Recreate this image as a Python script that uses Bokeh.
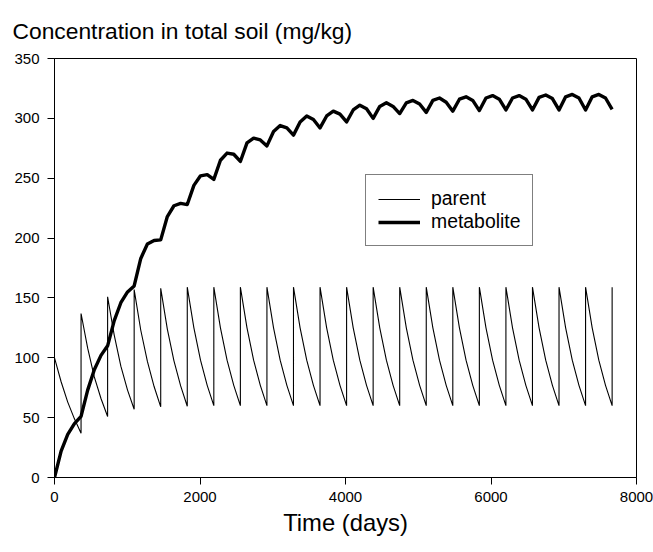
from bokeh.plotting import figure
from bokeh.models import Range1d, FixedTicker, Title, Legend, LegendItem
from bokeh.embed import file_html
from bokeh.resources import INLINE

# ---- data ----
# application days (start of each yearly cycle)
app_days = [0, 365, 730, 1095, 1460, 1825, 2190, 2555, 2920, 3285, 3650,
            4015, 4380, 4745, 5110, 5475, 5840, 6205, 6570, 6935, 7300, 7665]
# sampling offsets within one cycle (days after application)
cycle_offsets = [0, 91, 182, 274, 365]

# parent (mg/kg) per cycle: just after application, quarter, mid, three-quarter, before next application
parent_peak = [100, 137, 151, 157, 158, 159, 159, 159, 159, 159, 159,
               159, 159, 159, 159, 159, 159, 159, 159, 159, 159]
parent_q1 = [80, 108, 119, 123, 124, 125, 125, 125, 125, 125, 125,
             125, 125, 125, 125, 125, 125, 125, 125, 125, 125]
parent_mid = [63, 84, 93, 97, 97.5, 98, 98, 98, 98, 98, 98,
              98, 98, 98, 98, 98, 98, 98, 98, 98, 98]
parent_q3 = [49, 66, 73, 76, 76.5, 77, 77, 77, 77, 77, 77,
             77, 77, 77, 77, 77, 77, 77, 77, 77, 77]
parent_trough = [37, 51, 57, 59, 59.5, 60, 60, 60, 60, 60, 60,
                 60, 60, 60, 60, 60, 60, 60, 60, 60, 60]
parent_last_peak = 159

# metabolite (mg/kg) per cycle at the same offsets (0, 91, 182, 274)
met_start = [0, 51, 110, 160, 198.5, 228, 249, 264, 277, 286, 292,
             297, 300, 304, 305, 306, 306.5, 307, 307, 307, 307]
met_q1 = [22, 73, 131, 183, 218, 244, 265, 279.5, 289, 297, 302,
          307, 310, 313, 315, 316, 317, 317, 317.5, 318, 318]
met_mid = [36, 90, 146, 195, 227, 252, 271, 283.5, 294, 302, 306,
           311, 313, 315, 317, 318, 319, 319, 319.5, 320, 320]
met_q3 = [45, 102, 155, 198, 229, 253, 270, 282, 292, 299, 303.5,
          308, 310, 312, 313.5, 315, 316, 316, 316.5, 317, 317]
met_end = 307.5

x_ticks = [0, 2000, 4000, 6000, 8000]
y_ticks = [0, 50, 100, 150, 200, 250, 300, 350]

# ---- build line coordinates from the tables ----
px, py = [], []
for i in range(len(parent_peak)):
    vals = [parent_peak[i], parent_q1[i], parent_mid[i], parent_q3[i], parent_trough[i]]
    for off, v in zip(cycle_offsets, vals):
        px.append(app_days[i] + off)
        py.append(v)
px.append(app_days[-1])
py.append(parent_last_peak)

mx, my = [], []
for i in range(len(met_start)):
    vals = [met_start[i], met_q1[i], met_mid[i], met_q3[i]]
    for off, v in zip(cycle_offsets[:4], vals):
        mx.append(app_days[i] + off)
        my.append(v)
mx.append(app_days[-1])
my.append(met_end)

FONT = "Liberation Sans"

p = figure(width=653, height=552, output_backend="svg", toolbar_location=None,
           x_range=Range1d(0, 8000), y_range=Range1d(0, 350),
           min_border_left=54, min_border_right=17, min_border_top=58,
           min_border_bottom=75, title=None)
p.background_fill_color = "white"
p.border_fill_color = "white"
p.outline_line_color = "black"
p.outline_line_width = 1
p.xgrid.visible = False
p.ygrid.visible = False

title = Title(text="Concentration in total soil (mg/kg)", align="left",
              text_font=FONT, text_font_size="22.8px", text_font_style="normal",
              text_color="black", offset=-42, standoff=30)
p.add_layout(title, "above")

p.xaxis.ticker = FixedTicker(ticks=x_ticks)
p.yaxis.ticker = FixedTicker(ticks=y_ticks)
for ax in (p.xaxis, p.yaxis):
    ax.major_tick_in = 0
    ax.major_tick_out = 7
    ax.minor_tick_line_color = None
    ax.axis_line_color = "black"
    ax.major_tick_line_color = "black"
    ax.major_label_text_font = FONT
    ax.major_label_text_font_size = "15px"
    ax.major_label_text_color = "black"
p.xaxis.major_label_standoff = 7
p.yaxis.major_label_standoff = 8
p.xaxis.axis_label = "Time (days)"
p.xaxis.axis_label_text_font = FONT
p.xaxis.axis_label_text_font_size = "23.8px"
p.xaxis.axis_label_text_font_style = "normal"
p.xaxis.axis_label_text_color = "black"
p.xaxis.axis_label_standoff = 4

r_parent = p.line(px, py, line_color="black", line_width=1.1)
r_met = p.line(mx, my, line_color="black", line_width=3.4, line_join="round")

legend = Legend(items=[LegendItem(label="parent", renderers=[r_parent]),
                       LegendItem(label="metabolite", renderers=[r_met])],
                location=(311, 231))
legend.margin = 0
legend.padding = 12
legend.spacing = 0
legend.glyph_width = 42
legend.glyph_height = 20
legend.label_height = 23
legend.label_standoff = 11
legend.label_text_font = FONT
legend.label_text_font_size = "19.4px"
legend.label_text_color = "black"
legend.border_line_color = "black"
legend.border_line_width = 1
legend.background_fill_color = "white"
legend.background_fill_alpha = 1
p.add_layout(legend, "center")

open("out.html", "w").write(file_html(p, INLINE))
